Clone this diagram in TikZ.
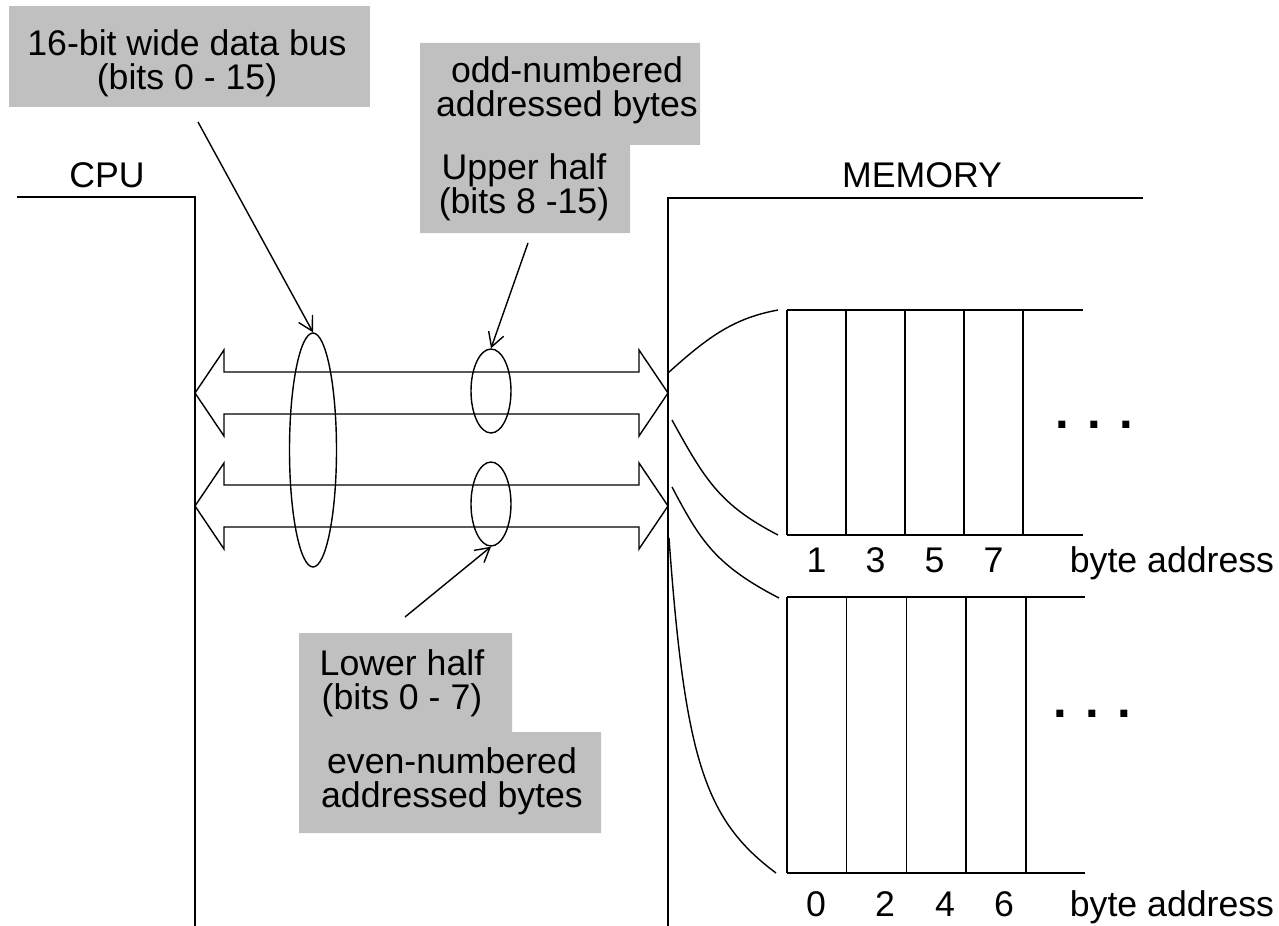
\documentclass[tikz,border=0pt]{standalone}
\usepackage{fontspec}
\setmainfont{Liberation Sans}
\usetikzlibrary{shapes.geometric,arrows.meta}

\definecolor{notegray}{RGB}{192,192,192}

\tikzset{
  ring/.style={draw, thick, ellipse, inner sep=0pt},
  pointer/.style={thick, -{Straight Barb[length=8pt,width=9pt]}},
  notetext/.style={font=\fontsize{20.3}{19.5}\selectfont, align=center, inner sep=0pt},
  dotstext/.style={font=\fontsize{28}{28}\selectfont\bfseries, inner sep=0pt},
}

\begin{document}
\begin{tikzpicture}[x=0.02cm, y=-0.02cm]
\useasboundingbox (0,0) rectangle (1279,926);

% -----------------------------
% Grey note boxes
% -----------------------------
\fill[notegray] (9,6) rectangle (370,107);
\fill[notegray] (420,43) -- (700,43) -- (700,145) -- (630,145)
    -- (630,233) -- (420,233) -- cycle;   % odd / upper half
\fill[notegray] (299,633) -- (512,633) -- (512,732) -- (601,732)
    -- (601,833) -- (299,833) -- cycle;   % lower half / even

\node[notetext] (busnote) at (187,63) {16-bit wide data bus\\(bits 0 - 15)};
\node[notetext] (oddnote) at (567,90) {odd-numbered\\addressed bytes};
\node[notetext] (uppernote) at (524,187) {Upper half\\(bits 8 -15)};
\node[notetext] (lowernote) at (402,683) {Lower half\\(bits 0 - 7)};
\node[notetext] (evennote) at (452,781) {even-numbered\\addressed bytes};

% -----------------------------
% CPU and memory walls
% -----------------------------
\draw[thick] (17,197) -- (195,197) -- (195,926);
\draw[thick] (1143,198) -- (668,198) -- (668,926);
\node[notetext, anchor=base] (cpu) at (107,188) {CPU};
\node[notetext, anchor=base] (memory) at (922,188) {MEMORY};

% -----------------------------
% Bus (two byte lanes)
% -----------------------------
\foreach \yc in {393,506} {
  \draw[thick] (195,\yc) -- (224,{\yc-43}) -- (224,{\yc-21}) -- (639,{\yc-21})
    -- (639,{\yc-43}) -- (668,\yc) -- (639,{\yc+43}) -- (639,{\yc+21})
    -- (224,{\yc+21}) -- (224,{\yc+43}) -- cycle;
}

\node[ring, minimum width=9.4mm, minimum height=46.8mm] (allbits) at (313,450) {};
\node[ring, minimum width=8mm, minimum height=16.8mm] (upperring) at (491,391) {};
\node[ring, minimum width=8mm, minimum height=16.8mm] (lowerring) at (491,504) {};

\coordinate (busfrom) at (198,122);
\coordinate (upperfrom) at (528,243);
\coordinate (lowerfrom) at (405,617);
\draw[pointer] (busfrom) -- (allbits.north);
\draw[pointer] (upperfrom) -- (upperring.north);
\draw[pointer] (lowerfrom) -- (lowerring.south);

% -----------------------------
% Memory banks
% -----------------------------
% odd bank
\draw[thick] (787,310) -- (1083,310);
\draw[thick] (787,535) -- (1083,535);
\foreach \i in {0,...,4}
  \draw[thick] ({787+59*\i},310) -- ({787+59*\i},535);
\foreach \lab [count=\i from 0] in {1,3,5,7}
  \node[notetext, anchor=base] (oddbyte\i) at ({816.5+59*\i},572) {\lab};
\node[notetext, anchor=base] (oddaddr) at (1172,572) {byte address};
\node[dotstext] (odddots) at (1094,425) {. . .};

% even bank
\draw[thick] (787,597) -- (1085,597);
\draw[thick] (787,873) -- (1085,873);
\foreach \i in {0,...,4}
  \draw[thick] ({787+59.7*\i},597) -- ({787+59.7*\i},873);
\foreach \lab/\xp [count=\i from 0] in {0/816,2/885,4/945,6/1004}
  \node[notetext, anchor=base] (evenbyte\i) at (\xp,916) {\lab};
\node[notetext, anchor=base] (evenaddr) at (1172,916) {byte address};
\node[dotstext] (evendots) at (1092,714) {. . .};

% fan-out from memory port to the banks
\draw[thick] (668,373) .. controls (710,335) and (735,318) .. (778,310);
\draw[thick] (672,420) .. controls (705,480) and (720,505) .. (778,535);
\draw[thick] (672,487) .. controls (700,540) and (715,565) .. (779,598);
\draw[thick] (669,538) .. controls (685,760) and (705,820) .. (776,873);

\end{tikzpicture}
\end{document}
